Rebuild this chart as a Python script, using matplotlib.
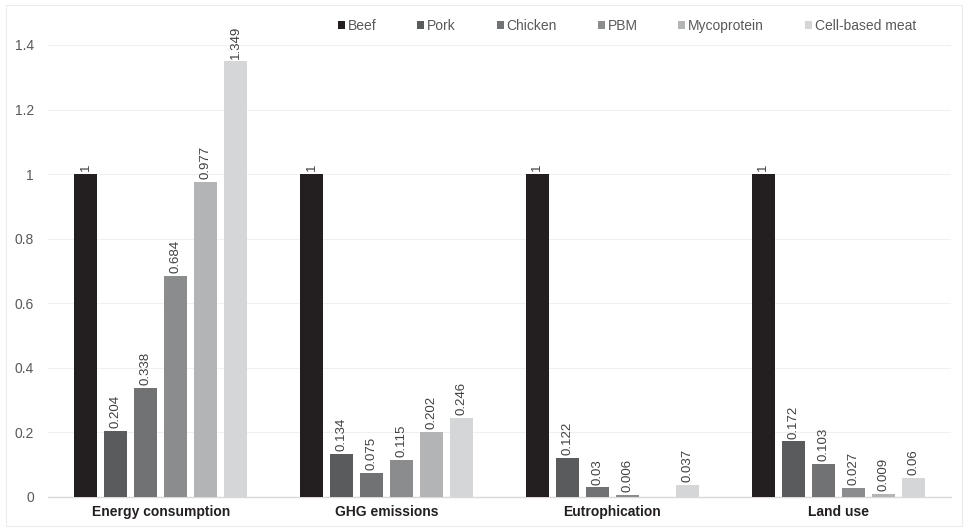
import numpy as np
import matplotlib
matplotlib.use("Agg")
import matplotlib.pyplot as plt
from matplotlib.patches import Rectangle

plt.rcParams['font.family'] = ['Liberation Sans', 'DejaVu Sans']

categories = ["Energy consumption", "GHG emissions", "Eutrophication", "Land use"]
series_names = ["Beef", "Pork", "Chicken", "PBM", "Mycoprotein", "Cell-based meat"]
beef = [1, 1, 1, 1]
pork = [0.204, 0.134, 0.122, 0.172]
chicken = [0.338, 0.075, 0.03, 0.103]
pbm = [0.684, 0.115, 0.006, 0.027]
mycoprotein = [0.977, 0.202, np.nan, 0.009]
cell_based = [1.349, 0.246, 0.037, 0.06]
series_values = [beef, pork, chicken, pbm, mycoprotein, cell_based]
colors = ["#231f20", "#5a5b5d", "#717274", "#8b8c8e", "#b3b4b6", "#d5d6d7"]
yticks = [0, 0.2, 0.4, 0.6, 0.8, 1, 1.2, 1.4]
ytick_labels = ["0", "0.2", "0.4", "0.6", "0.8", "1", "1.2", "1.4"]

fig = plt.figure(figsize=(9.68, 5.29), dpi=100)
fig.patches.append(Rectangle((0.006, 0.006), 0.988, 0.985, transform=fig.transFigure,
                             fill=False, edgecolor="#ececec", linewidth=0.8))
ax = fig.add_axes([0.0496, 0.0605, 0.9328, 0.8545])

x = np.arange(len(categories))
step = 0.133
width = 0.102
offsets = (np.arange(len(series_names)) - (len(series_names) - 1) / 2) * step

for name, vals, col, off in zip(series_names, series_values, colors, offsets):
    vals = np.array(vals, dtype=float)
    ax.bar(x + off, np.nan_to_num(vals), width, color=col, label=name, zorder=3)
    for xi, v in zip(x + off, vals):
        if np.isnan(v):
            continue
        ax.annotate(f"{v:g}", (xi, v), xytext=(0, 2), textcoords="offset points",
                    rotation=90, ha="center", va="bottom", fontsize=9.5,
                    color="#404040", annotation_clip=False)

ax.set_xlim(-0.5, len(categories) - 0.5)
ax.set_ylim(0, 1.4)
ax.set_yticks(yticks)
ax.set_yticklabels(ytick_labels)
ax.set_xticks(x)
ax.set_xticklabels(categories, fontsize=10, fontweight="bold", color="#231f20")
ax.tick_params(axis="y", length=0, labelsize=10, labelcolor="#595959", pad=10)
ax.tick_params(axis="x", length=0, pad=6)
ax.grid(axis="y", color="#f0f0f0", linewidth=0.8, zorder=0)
for s in ["top", "right", "left"]:
    ax.spines[s].set_visible(False)
ax.spines["bottom"].set_color("#d9d9d9")
ax.spines["bottom"].set_linewidth(1.0)

fig.legend(loc="center left", bbox_to_anchor=(0.349, 0.951), ncol=6, frameon=False,
           fontsize=10, handlelength=0.5, handleheight=0.5, handletextpad=0.2,
           columnspacing=2.95, labelcolor="#595959", borderpad=0, borderaxespad=0)

fig.savefig("out.png", dpi=100)
